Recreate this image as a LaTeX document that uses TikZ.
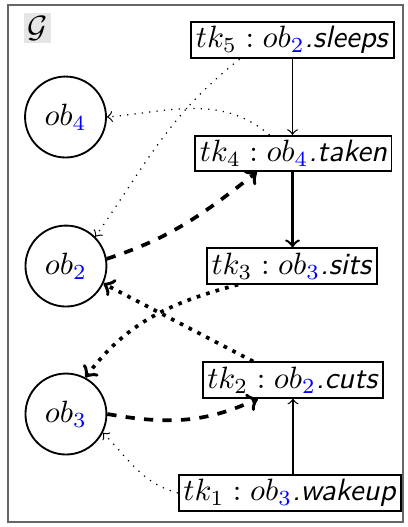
\documentclass[tikz,border=0pt]{standalone}
\usepackage{tikz}

\newcommand{\obj}[1]{ob_{\textcolor{blue}{#1}}}
\newcommand{\act}[1]{\textsf{\textit{.#1}}}

\tikzset{
    objnode/.style={circle,draw,semithick,minimum size=0.923cm,inner sep=0pt},
    tasknode/.style={rectangle,draw,semithick,inner sep=1.5pt},
    order/.style={->,thin},
    strong/.style={->,thick},
    owner/.style={->,dashed,very thick},
    uses/.style={->,dotted,very thick},
    weak/.style={->,dotted,thin}
}

\begin{document}
\begin{tikzpicture}
                \useasboundingbox (0,0) rectangle (4.640,6.008);
                \draw[black!60,thin] (0.091,0.057) rectangle (4.594,5.951);
                \node[fill=gray!20,inner sep=1pt] (graph) at (0.428,5.689) {$\mathcal{G}$};

                % objects
                \node[objnode] (ob4) at (0.747,4.674) {$\obj{4}$};
                \node[objnode] (ob2) at (0.752,2.975) {$\obj{2}$};
                \node[objnode] (ob3) at (0.752,1.288) {$\obj{3}$};

                % tasks
                \node[tasknode] (tk5) at (3.335,5.552) {$tk_5 : \obj{2}$\act{sleeps}};
                \node[tasknode] (tk4) at (3.345,4.258) {$tk_4 : \obj{4}$\act{taken}};
                \node[tasknode] (tk3) at (3.329,2.975) {$tk_3 : \obj{3}$\act{sits}};
                \node[tasknode] (tk2) at (3.340,1.676) {$tk_2 : \obj{2}$\act{cuts}};
                \node[tasknode] (tk1) at (3.306,0.388) {$tk_1 : \obj{3}$\act{wakeup}};

                \draw[order] (tk5.south) -- (tk5.south |- tk4.north);
                \draw[strong] (tk4.south -| tk5.south) -- (tk3.north -| tk5.south);
                \draw[order] (tk1.north -| tk2.south) -- (tk2.south);

                \draw[weak] (tk4.142) to[out=140,in=5] (ob4.east);
                \draw[weak] (tk5.200) to[out=218,in=55] (ob2.45);
                \draw[weak] (tk1.west) to[out=165,in=-45] (ob3.-27);

                \draw[owner] (ob2.10) to[out=18,in=218] (tk4.207);
                \draw[owner] (ob3.east) to[out=-10,in=205] (tk2.208);

                \draw[uses] (tk3.199) to[out=195,in=53] (ob3.62);
                \draw[uses] (tk2.155) -- (ob2.-25);
\end{tikzpicture}
\end{document}
